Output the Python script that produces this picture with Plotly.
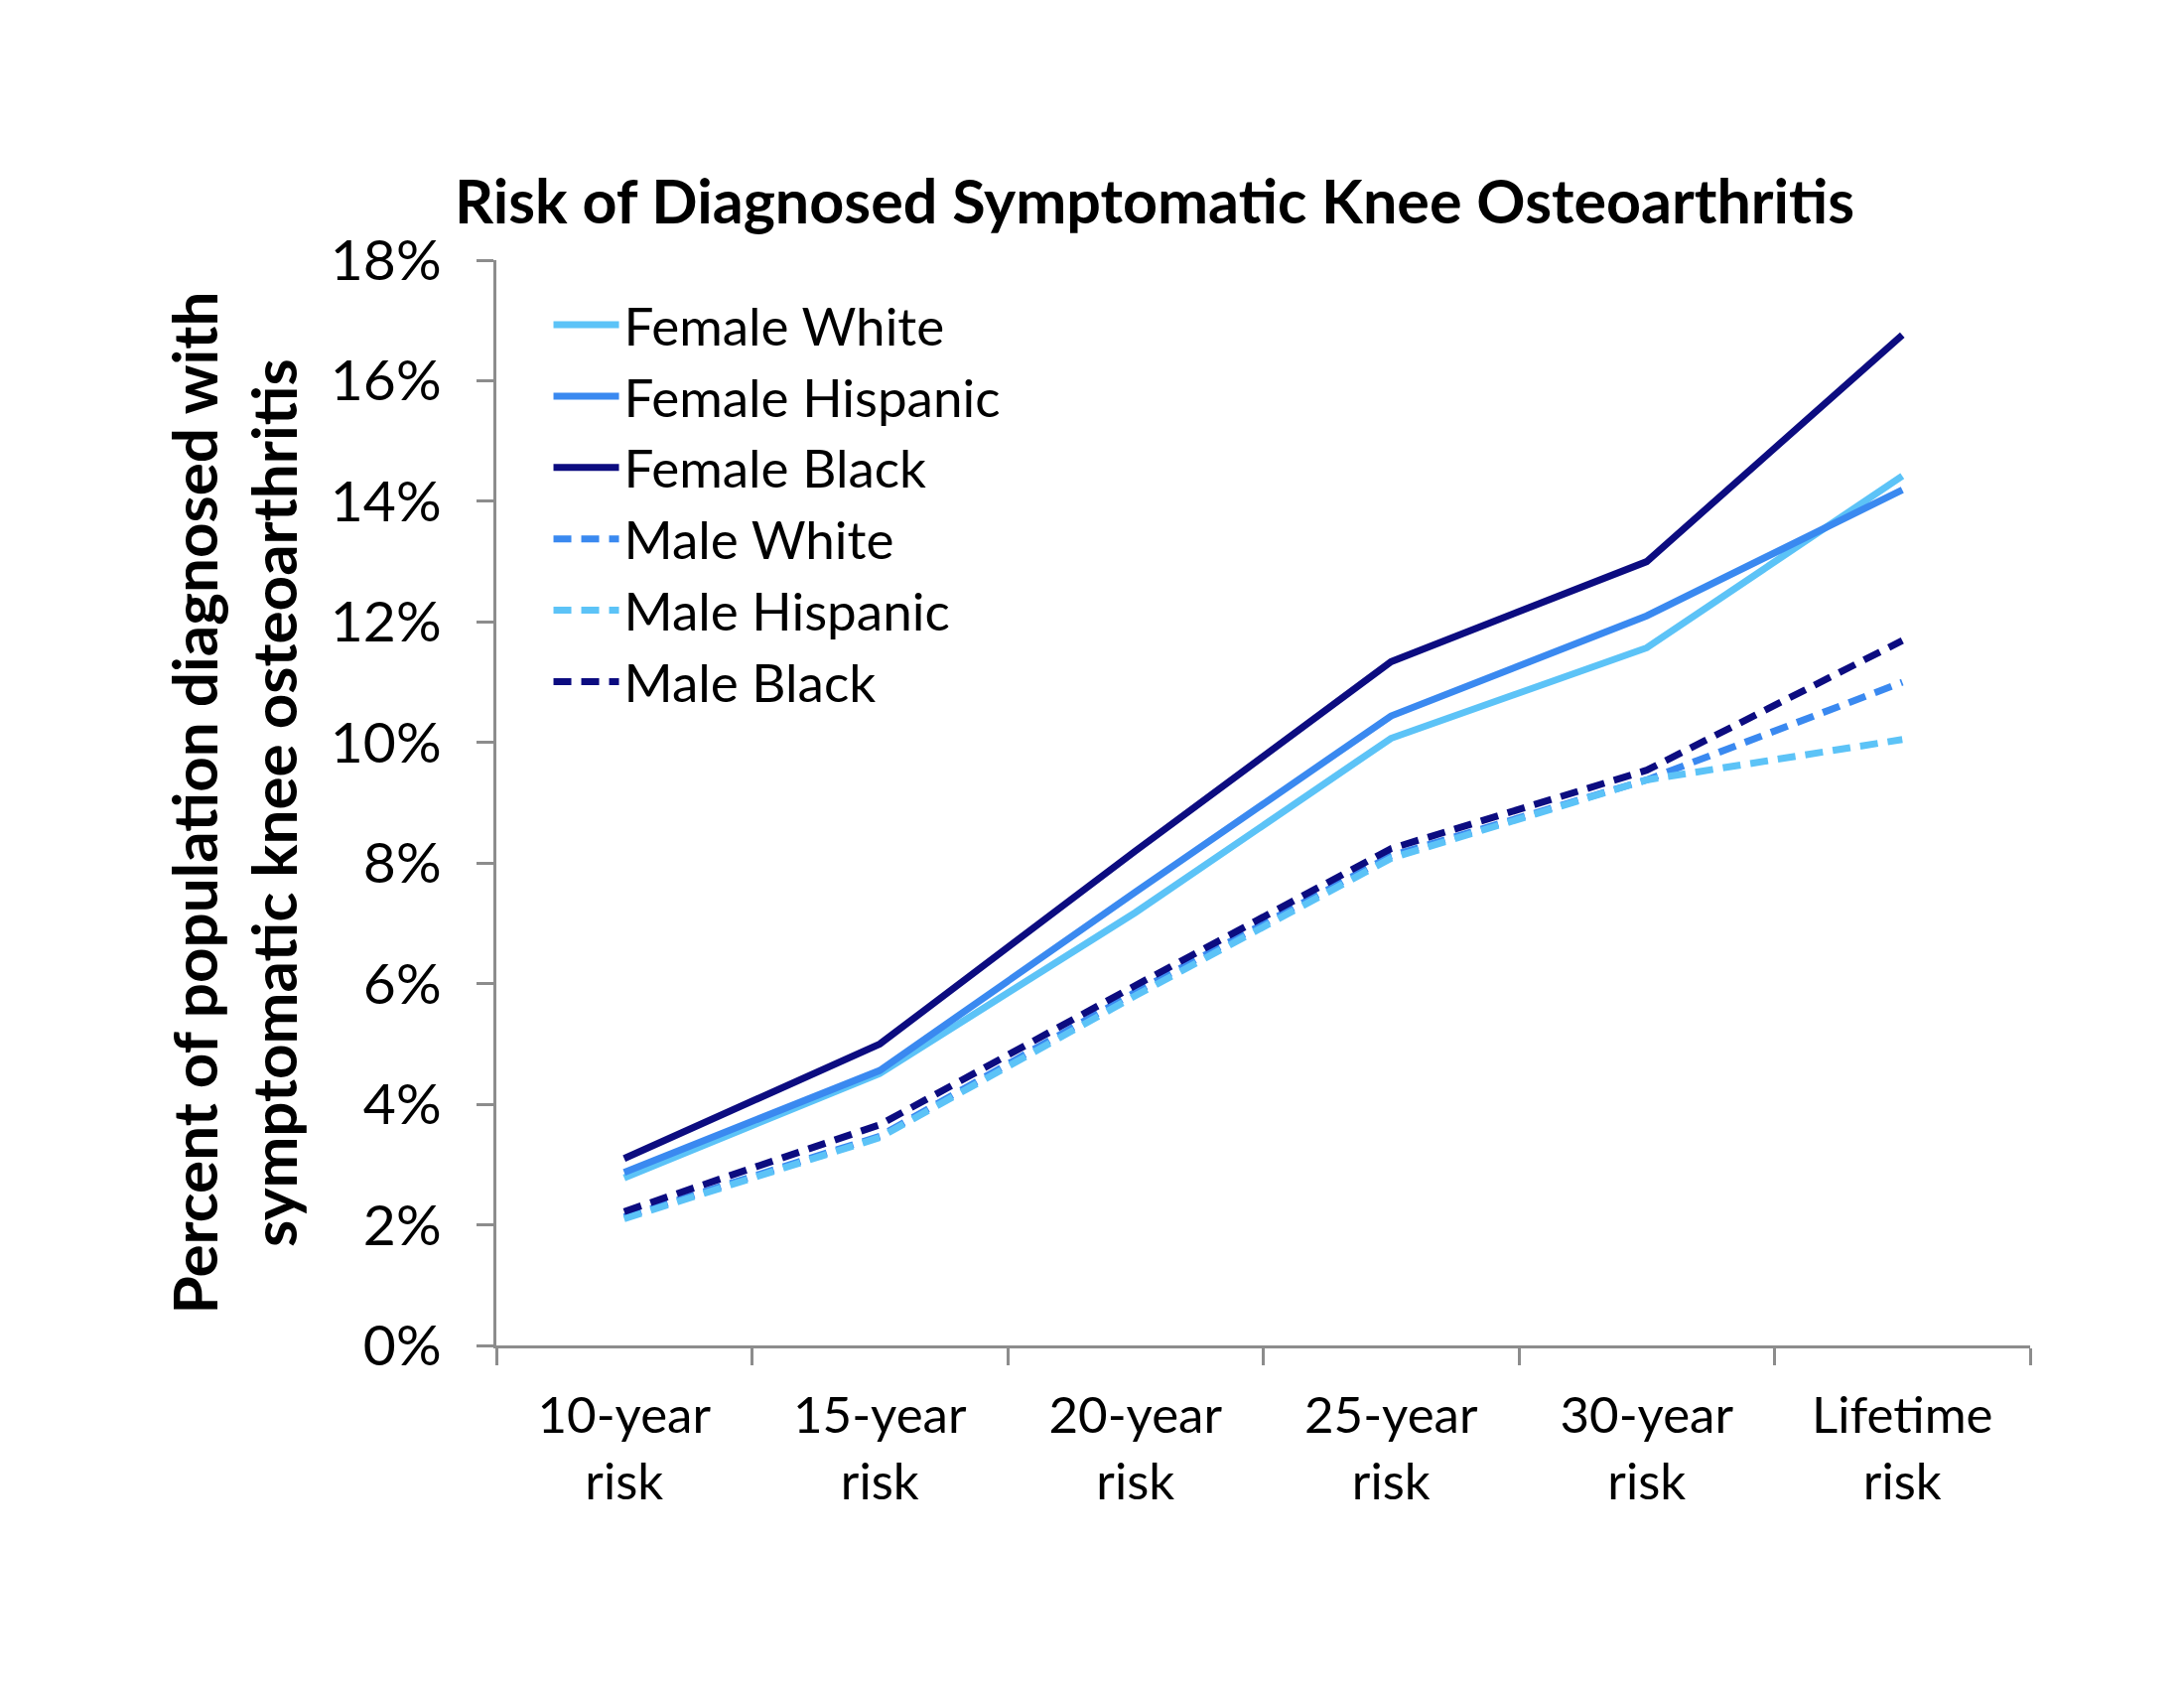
import plotly.graph_objects as go

categories = ["10-year<br>risk", "15-year<br>risk", "20-year<br>risk", "25-year<br>risk", "30-year<br>risk", "Lifetime<br>risk"]
x_pos = [0, 1, 2, 3, 4, 5]

female_white = [2.78, 4.51, 7.18, 10.07, 11.57, 14.42]
female_hispanic = [2.87, 4.56, 7.52, 10.44, 12.10, 14.19]
female_black = [3.10, 5.00, 8.20, 11.34, 13.00, 16.76]
male_white = [2.13, 3.47, 5.86, 8.12, 9.38, 11.00]
male_hispanic = [2.10, 3.45, 5.80, 8.08, 9.38, 10.05]
male_black = [2.22, 3.66, 5.97, 8.24, 9.54, 11.69]

y_ticks = [0, 2, 4, 6, 8, 10, 12, 14, 16, 18]
y_ticktext = ["0%", "2%", "4%", "6%", "8%", "10%", "12%", "14%", "16%", "18%"]

LIGHT = "#5CC3F7"
MID = "#3A89F0"
NAVY = "#0C0C80"
FONT = "Lato"

series = [
    ("Female White", female_white, LIGHT, "solid"),
    ("Female Hispanic", female_hispanic, MID, "solid"),
    ("Female Black", female_black, NAVY, "solid"),
    ("Male White", male_white, MID, "18px,10px"),
    ("Male Hispanic", male_hispanic, LIGHT, "18px,10px"),
    ("Male Black", male_black, NAVY, "18px,10px"),
]

fig = go.Figure()
for name, vals, color, dash in series:
    fig.add_trace(go.Scatter(
        x=x_pos, y=vals, mode="lines", name=name,
        line=dict(color=color, width=7, dash=dash),
    ))

fig.update_layout(
    width=2200, height=1700,
    paper_bgcolor="white", plot_bgcolor="white",
    margin=dict(l=492, r=163, t=254, b=353),
    font=dict(family=FONT, color="black", size=52),
    showlegend=True,
    legend=dict(
        x=0.034, y=0.978, xanchor="left", yanchor="top",
        font=dict(family=FONT, size=53, color="black"),
        bgcolor="rgba(0,0,0,0)", borderwidth=0,
        tracegroupgap=0, itemwidth=66,
    ),
    xaxis=dict(
        range=[-0.5, 5.5], tickmode="array", tickvals=x_pos, ticktext=categories,
        ticks="", showgrid=False, zeroline=False,
        showline=True, linecolor="#8C8C8C", linewidth=3,
        tickfont=dict(family=FONT, size=51, color="black"),
        ticklabelstandoff=24,
        minor=dict(tickmode="linear", tick0=-0.5, dtick=1, ticks="outside",
                   ticklen=17, tickwidth=3, tickcolor="#8C8C8C", showgrid=False),
    ),
    yaxis=dict(
        range=[0, 18], tickmode="array", tickvals=y_ticks, ticktext=y_ticktext,
        ticks="outside", ticklen=17, tickwidth=3, tickcolor="#8C8C8C",
        showgrid=False, zeroline=False,
        showline=True, linecolor="#8C8C8C", linewidth=3,
        tickfont=dict(family=FONT, size=57, color="black"),
        ticklabelstandoff=24,
    ),
    annotations=[
        dict(text="<b>Risk of Diagnosed Symptomatic Knee Osteoarthritis</b>",
             xref="paper", yref="paper", x=0.429, y=1.055, xanchor="center", yanchor="middle",
             showarrow=False, font=dict(family=FONT, size=61, color="black")),
        dict(text="<b>Percent of population diagnosed with<br>symptomatic knee osteoarthritis</b>",
             xref="paper", yref="paper", x=-0.1715, y=0.5, xanchor="center", yanchor="middle",
             textangle=-90, showarrow=False,
             font=dict(family=FONT, size=62, color="black")),
    ],
)

fig.write_html("out.html")
